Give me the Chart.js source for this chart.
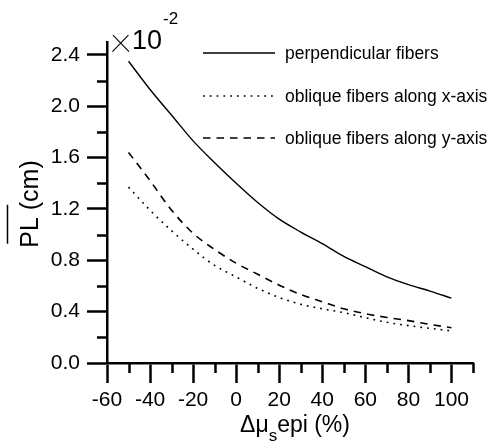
<!DOCTYPE html>
<html>
<head>
<meta charset="utf-8">
<script src="https://cdn.jsdelivr.net/npm/chart.js@4/dist/chart.umd.min.js"></script>
<style>
  html, body { margin: 0; padding: 0; background: #ffffff; }
  #wrap { width: 491px; height: 447px; }
</style>
</head>
<body>
<div id="wrap"><canvas id="c" width="491" height="447"></canvas></div>
<script>
// ---- data ----
const deltaMuS = [-50, -40, -30, -20, -10, 0, 10, 20, 30, 40, 50, 60, 70, 80, 90, 100];
const perpendicularFibers = [2.35, 2.13, 1.93, 1.73, 1.56, 1.40, 1.25, 1.12, 1.02, 0.93, 0.83, 0.75, 0.67, 0.61, 0.56, 0.505];
const obliqueAlongX = [1.37, 1.19, 1.03, 0.886, 0.76, 0.67, 0.581, 0.51, 0.457, 0.422, 0.392, 0.353, 0.317, 0.291, 0.27, 0.25];
const obliqueAlongY = [1.64, 1.42, 1.19, 1.01, 0.884, 0.777, 0.691, 0.606, 0.533, 0.477, 0.422, 0.384, 0.355, 0.33, 0.30, 0.275];
const seriesNames = ['perpendicular fibers', 'oblique fibers along x-axis', 'oblique fibers along y-axis'];
const xMinorTicks = [-50, -30, -10, 10, 30, 50, 70, 90, 110];
const yMinorTicks = [0.2, 0.6, 1.0, 1.4, 1.8, 2.2];
const yAxisTitle = 'PL (cm)';
const xAxisTitleParts = ['\u0394\u03BC', 's', 'epi (%)'];
const multiplierText = ['\u00D7', '10', '-2'];

const FONT = "'Liberation Sans', Arial, sans-serif";
Chart.defaults.font.family = FONT;
Chart.defaults.color = '#000';

function pts(ys) { return deltaMuS.map((x, i) => ({ x: x, y: ys[i] })); }

const decorPlugin = {
  id: 'decor',
  afterDraw(chart) {
    const ctx = chart.ctx;
    const xs = chart.scales.x, ys = chart.scales.y;
    const area = chart.chartArea;
    ctx.save();
    ctx.strokeStyle = '#000';
    ctx.fillStyle = '#000';
    // minor ticks
    ctx.lineWidth = 2.5;
    ctx.beginPath();
    yMinorTicks.forEach(v => {
      const y = Math.round(ys.getPixelForValue(v)) + 0.5;
      ctx.moveTo(area.left - 10, y); ctx.lineTo(area.left, y);
    });
    xMinorTicks.forEach(v => {
      const x = Math.round(xs.getPixelForValue(v)) + 0.5;
      ctx.moveTo(x, area.bottom); ctx.lineTo(x, area.bottom + 10);
    });
    ctx.stroke();

    // legend
    const legendY = [53, 96, 138];
    chart.data.datasets.forEach((ds, i) => {
      ctx.save();
      ctx.lineWidth = ds.borderWidth;
      ctx.setLineDash(ds.borderDash || []);
      ctx.beginPath();
      ctx.moveTo(203, legendY[i]); ctx.lineTo(275, legendY[i]);
      ctx.stroke();
      ctx.restore();
      ctx.font = '17.5px ' + FONT;
      ctx.textBaseline = 'middle';
      ctx.textAlign = 'left';
      ctx.fillText(ds.label, 285, legendY[i] + 1);
    });

    // multiplier x10^-2
    ctx.textBaseline = 'alphabetic';
    ctx.textAlign = 'left';
    ctx.font = "100 42px Roboto, 'DejaVu Sans ExtraLight', " + FONT;
    ctx.fillText(multiplierText[0], 110, 52);
    ctx.font = '27px ' + FONT;
    ctx.fillText(multiplierText[1], 132, 49);
    ctx.font = '17px ' + FONT;
    ctx.fillText(multiplierText[2], 163, 24);

    // y title (rotated) with overline on PL
    ctx.save();
    ctx.translate(38, 204);
    ctx.rotate(-Math.PI / 2);
    ctx.font = '25px ' + FONT;
    ctx.textAlign = 'center';
    ctx.textBaseline = 'alphabetic';
    ctx.fillText(yAxisTitle, 0, 0);
    const w = ctx.measureText(yAxisTitle).width;
    const start = -w / 2;
    ctx.lineWidth = 1.5;
    ctx.beginPath();
    ctx.moveTo(start + 4, -30.5);
    ctx.lineTo(start + 43, -30.5);
    ctx.stroke();
    ctx.restore();

    // x title with subscript
    ctx.font = '23px ' + FONT;
    const w1 = ctx.measureText(xAxisTitleParts[0]).width;
    const w3 = ctx.measureText(xAxisTitleParts[2]).width;
    ctx.font = '17px ' + FONT;
    const w2 = ctx.measureText(xAxisTitleParts[1]).width;
    const total = w1 + w2 + w3;
    const x0 = 295 - total / 2;
    const base = 432;
    ctx.font = '23px ' + FONT;
    ctx.fillText(xAxisTitleParts[0], x0, base);
    ctx.font = '17px ' + FONT;
    ctx.fillText(xAxisTitleParts[1], x0 + w1, base + 9);
    ctx.font = '23px ' + FONT;
    ctx.fillText(xAxisTitleParts[2], x0 + w1 + w2, base);
    ctx.restore();
  }
};

new Chart(document.getElementById('c'), {
  type: 'line',
  data: {
    datasets: [
      { label: seriesNames[0], data: pts(perpendicularFibers), borderColor: '#000', borderWidth: 1.4, borderDash: [], pointRadius: 0, fill: false, cubicInterpolationMode: 'monotone' },
      { label: seriesNames[1], data: pts(obliqueAlongX), borderColor: '#000', borderWidth: 1.6, borderDash: [1.8, 5], pointRadius: 0, fill: false, cubicInterpolationMode: 'monotone' },
      { label: seriesNames[2], data: pts(obliqueAlongY), borderColor: '#000', borderWidth: 1.6, borderDash: [7.5, 6], pointRadius: 0, fill: false, cubicInterpolationMode: 'monotone' }
    ]
  },
  options: {
    responsive: false,
    animation: false,
    devicePixelRatio: 1,
    layout: { padding: { top: 42, right: 18, left: 0, bottom: 0 } },
    plugins: { legend: { display: false }, tooltip: { enabled: false } },
    scales: {
      x: {
        type: 'linear', position: 'bottom', min: -60, max: 110,
        ticks: { stepSize: 20, includeBounds: false, maxRotation: 0, autoSkip: false, padding: 5, color: '#000', font: { size: 21 } },
        grid: { drawOnChartArea: false, drawTicks: true, tickLength: 20, tickWidth: 2.5, tickColor: '#000' },
        border: { display: true, color: '#000', width: 2.5 },
        afterFit(s) { s.height = 84; }
      },
      y: {
        type: 'linear', position: 'left', min: 0, max: 2.5,
        ticks: { stepSize: 0.4, includeBounds: false, padding: 7, color: '#000', font: { size: 21 }, callback: v => Number(v).toFixed(1) },
        grid: { drawOnChartArea: false, drawTicks: true, tickLength: 20, tickWidth: 2.5, tickColor: '#000' },
        border: { display: true, color: '#000', width: 2.5 },
        afterFit(s) { s.width = 107; }
      }
    }
  },
  plugins: [decorPlugin]
});
</script>
</body>
</html>
